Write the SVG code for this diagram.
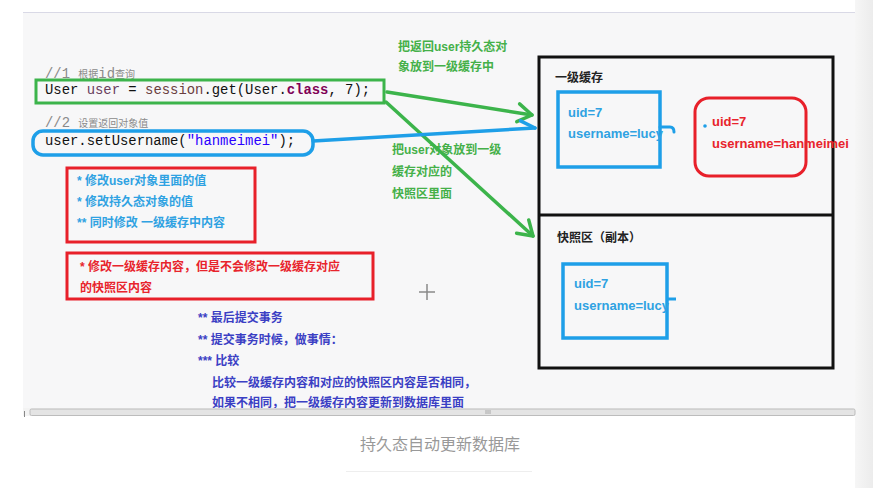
<svg xmlns="http://www.w3.org/2000/svg" width="873" height="488" viewBox="0 0 873 488">
<defs>
<linearGradient id="strip" x1="0" y1="0" x2="1" y2="0"><stop offset="0" stop-color="#f6f6f6"/><stop offset="1" stop-color="#ececec"/></linearGradient>
<marker id="ag" markerUnits="userSpaceOnUse" markerWidth="24" markerHeight="24" refX="0" refY="0" viewBox="-16 -12 20 24" orient="auto"><path d="M-14,-9 L0,0 L-14,9" fill="none" stroke="#3cb44b" stroke-width="3.5" stroke-linecap="round" stroke-linejoin="round"/></marker>
<marker id="ab" markerUnits="userSpaceOnUse" markerWidth="24" markerHeight="24" refX="0" refY="0" viewBox="-16 -12 20 24" orient="auto"><path d="M-14,-8 L0,0" fill="none" stroke="#1e9fe8" stroke-width="3.5" stroke-linecap="round"/></marker>
</defs>
<style>
.cj{font-family:"Liberation Sans","Noto Sans CJK SC",sans-serif;font-weight:bold;font-size:12px}
.mono{font-family:"Liberation Mono","DejaVu Sans Mono",monospace;font-size:13.9px}
.cm{font-family:"Liberation Mono","Noto Sans CJK SC",monospace;fill:#8a8a8a}
.gt{fill:#45b049}
.lb{fill:#2fa2e2}
.rd{fill:#e8242c}
.db{fill:#3b3fc4}
.kv{font-family:"Liberation Sans","Noto Sans CJK SC",sans-serif;font-weight:bold;font-size:13px}
.bl{fill:none;stroke:#1e9fe8;stroke-width:3.5}
.rb{fill:none;stroke:#e8202a;stroke-width:3}
</style>
<rect width="873" height="488" fill="#ffffff"/>
<rect x="23" y="12" width="832" height="404" fill="#f7f7f8"/>
<line x1="23" y1="12.5" x2="855" y2="12.5" stroke="#d9d9e6" stroke-width="1"/>
<rect x="855" y="0" width="18" height="488" fill="url(#strip)"/>

<g id="code1">
<text x="45" y="78" class="cm"><tspan font-size="13.9">//1 </tspan><tspan font-size="10" font-family="Noto Sans CJK SC,sans-serif">根据</tspan><tspan font-size="13.9">id</tspan><tspan font-size="10" font-family="Noto Sans CJK SC,sans-serif">查询</tspan></text>
<text x="45" y="94" class="mono" fill="#111">User <tspan fill="#6a3e5e">user</tspan> = <tspan fill="#6a3e3e">session</tspan>.get(User.<tspan fill="#7f0055" font-weight="bold">class</tspan>, 7);</text>
<rect x="36" y="80" width="348" height="23" fill="none" stroke="#3cb44b" stroke-width="3"/>
</g>

<g id="code2">
<text x="45" y="127" class="cm"><tspan font-size="13.9">//2 </tspan><tspan font-size="10" font-family="Noto Sans CJK SC,sans-serif">设置返回对象值</tspan></text>
<text x="45" y="145" class="mono" fill="#111">user.setUsername(<tspan fill="#2a00ff">"hanmeimei"</tspan>);</text>
<rect x="33" y="131" width="280" height="24" rx="10" fill="none" stroke="#1e9fe8" stroke-width="3.5"/>
</g>

<g id="note-green-1" class="cj gt">
<text x="398" y="50.5">把返回user持久态对</text>
<text x="398" y="71">象放到一级缓存中</text>
</g>

<g id="note-green-2" class="cj gt">
<text x="392" y="153.5">把user对象放到一级</text>
<text x="392" y="175.5">缓存对应的</text>
<text x="392" y="197.5">快照区里面</text>
</g>

<g id="note-modify">
<rect x="67" y="168" width="188" height="74" class="rb"/>
<g class="cj lb">
<text x="77" y="184.5">* 修改user对象里面的值</text>
<text x="77" y="205.5">* 修改持久态对象的值</text>
<text x="77" y="226.5">** 同时修改 一级缓存中内容</text>
</g>
</g>

<g id="note-snapshot">
<rect x="67" y="253" width="306" height="46" class="rb"/>
<g class="cj rd">
<text x="80" y="270.5">* 修改一级缓存内容，但是不会修改一级缓存对应</text>
<text x="80" y="291.5">的快照区内容</text>
</g>
</g>

<g id="note-commit" class="cj db">
<text x="198" y="321.5">** 最后提交事务</text>
<text x="198" y="343.5">** 提交事务时候，做事情：</text>
<text x="198" y="364.5">*** 比较</text>
<text x="212" y="386.5">比较一级缓存内容和对应的快照区内容是否相同，</text>
<text x="212" y="406.5">如果不相同，把一级缓存内容更新到数据库里面</text>
</g>

<g id="cursor" stroke="#8a8a8a" stroke-width="1.5">
<line x1="427" y1="284" x2="427" y2="300"/>
<line x1="419" y1="292" x2="435" y2="292"/>
</g>

<g id="cache-frame">
<rect x="539" y="57" width="294" height="311" fill="none" stroke="#111" stroke-width="3"/>
<line x1="539" y1="215" x2="833" y2="215" stroke="#111" stroke-width="3"/>
<text x="555" y="81.5" class="cj" font-size="13" fill="#222">一级缓存</text>
<text x="557" y="241.5" class="cj" font-size="13" fill="#222">快照区（副本）</text>
</g>

<g id="cache-obj">
<rect x="558" y="92" width="102" height="75" class="bl"/>
<text x="568" y="116.5" class="kv lb">uid=7</text>
<text x="568" y="137.5" class="kv lb">username=lucy</text>
</g>

<g id="cache-obj-modified">
<rect x="695" y="98" width="111" height="78" rx="14" class="rb"/>
<circle cx="705" cy="126" r="1.8" fill="#1e9fe8"/>
<text x="712" y="125.5" class="kv rd">uid=7</text>
<text x="712" y="147.5" class="kv rd">username=hanmeimei</text>
</g>

<g id="snapshot-obj">
<rect x="563" y="264" width="104" height="74" class="bl"/>
<text x="574" y="287.5" class="kv lb">uid=7</text>
<text x="574" y="309.5" class="kv lb">username=lucy</text>
<line x1="667" y1="299" x2="676" y2="299" stroke="#1e9fe8" stroke-width="3"/>
</g>

<g id="connectors" fill="none" stroke-linecap="round">
<path d="M387,92 L532,115" stroke="#3cb44b" stroke-width="3.5" marker-end="url(#ag)"/>
<path d="M386,102 L533,236" stroke="#3cb44b" stroke-width="3.5" marker-end="url(#ag)"/>
<path d="M313,141 L535,128" stroke="#1e9fe8" stroke-width="3.5" marker-end="url(#ab)"/>
<path d="M660,127 L670,127 Q674,127 674,132" stroke="#1e9fe8" stroke-width="3"/>
</g>

<g id="scrollbar">
<rect x="23" y="408" width="832" height="8" fill="#f3f3f3"/>
<rect x="30" y="409" width="825" height="6.5" rx="1.5" fill="#e4e4e4" stroke="#bcbcbc" stroke-width="1"/>
<line x1="24.5" y1="411" x2="24.5" y2="417" stroke="#888" stroke-width="1"/>
<g stroke="#999" stroke-width="0.8"><line x1="486" y1="410" x2="486" y2="414"/><line x1="488" y1="410" x2="488" y2="414"/><line x1="490" y1="410" x2="490" y2="414"/></g>
</g>

<g id="caption">
<text x="440" y="450" text-anchor="middle" font-family="Noto Sans CJK SC,sans-serif" font-size="16" fill="#999">持久态自动更新数据库</text>
<line x1="346" y1="471.5" x2="532" y2="471.5" stroke="#eeeeee" stroke-width="1"/>
</g>
</svg>
